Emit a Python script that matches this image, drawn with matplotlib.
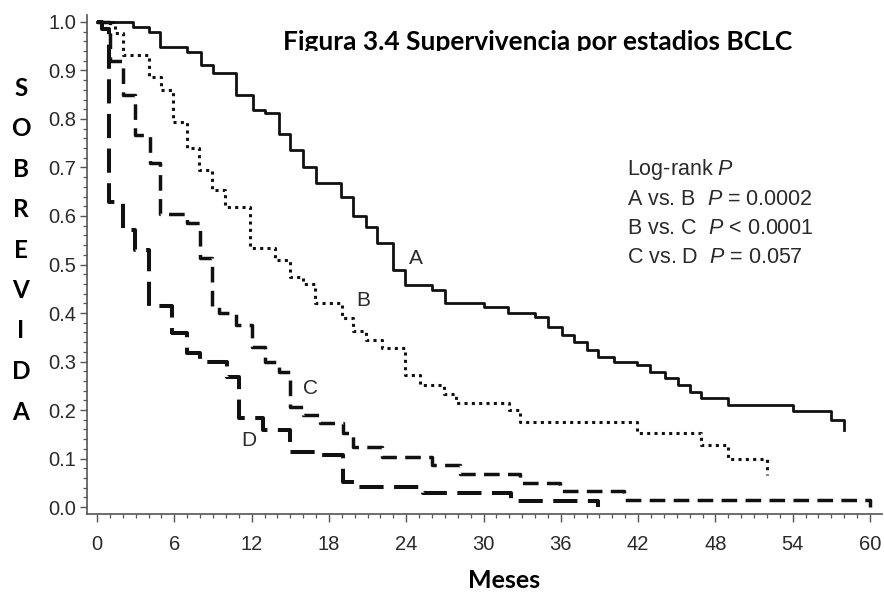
import numpy as np
import matplotlib
matplotlib.use("Agg")
import matplotlib.pyplot as plt
from matplotlib.ticker import MultipleLocator
from matplotlib.transforms import Bbox, TransformedBbox

plt.rcParams['font.family'] = ['Liberation Sans', 'DejaVu Sans']
plt.rcParams['mathtext.fontset'] = 'custom'
plt.rcParams['mathtext.rm'] = 'Liberation Sans'
plt.rcParams['mathtext.it'] = 'Liberation Sans:italic'

# --- datos (meses, supervivencia) ---
a_meses = [0, 2.8, 4.0, 4.9, 7.0, 8.1, 9.0, 10.8, 12.1, 13.0, 14.1, 15.0, 16.0, 17.0,
           18.9, 19.9, 20.9, 21.7, 23.0, 23.9, 26.0, 27.0, 30.0, 31.9, 34.0, 35.0,
           36.1, 37.0, 38.0, 38.9, 40.1, 41.9, 42.9, 44.1, 45.1, 46.0, 46.9, 49.0,
           54.0, 57.0, 58.0]
a_surv = [1.0, 0.99, 0.98, 0.949, 0.939, 0.911, 0.894, 0.849, 0.819, 0.812, 0.770,
          0.736, 0.702, 0.667, 0.640, 0.599, 0.578, 0.544, 0.489, 0.458, 0.447, 0.420,
          0.413, 0.399, 0.392, 0.372, 0.355, 0.341, 0.324, 0.310, 0.300, 0.293, 0.279,
          0.265, 0.252, 0.238, 0.224, 0.210, 0.197, 0.179, 0.159]

b_meses = [0, 1.4, 2.0, 4.0, 5.0, 5.9, 7.0, 7.9, 8.9, 9.9, 11.9, 13.8, 15.0, 16.0,
           16.9, 19.0, 19.9, 20.9, 22.1, 23.9, 25.1, 26.9, 27.9, 32.0, 32.8, 41.9,
           46.9, 49.0, 52.0]
b_surv = [1.0, 0.977, 0.932, 0.887, 0.86, 0.794, 0.74, 0.695, 0.654, 0.619, 0.533,
          0.509, 0.475, 0.46, 0.42, 0.389, 0.362, 0.344, 0.327, 0.272, 0.252, 0.234,
          0.214, 0.2, 0.176, 0.152, 0.128, 0.1, 0.066]

c_meses = [0, 1.0, 2.0, 2.95, 4.1, 4.9, 7.0, 8.0, 8.9, 9.5, 10.8, 12.0, 13.0, 14.1,
           15.0, 16.0, 17.3, 19.1, 19.9, 22.1, 26.0, 28.2, 32.8, 35.9, 40.9, 60.0]
c_surv = [1.0, 0.92, 0.85, 0.767, 0.71, 0.605, 0.585, 0.513, 0.413, 0.399, 0.375,
          0.33, 0.30, 0.279, 0.207, 0.19, 0.173, 0.152, 0.124, 0.104, 0.087, 0.069,
          0.05, 0.034, 0.0144, 0.0]

d_meses = [0, 0.4, 0.9, 2.0, 2.95, 4.0, 5.8, 7.0, 8.0, 10.1, 11.0, 12.9, 15.0, 17.0,
           19.1, 20.2, 25.3, 32.1, 38.9]
d_surv = [1.0, 0.985, 0.629, 0.571, 0.53, 0.415, 0.358, 0.317, 0.300, 0.269, 0.183,
          0.159, 0.114, 0.107, 0.052, 0.042, 0.028, 0.0124, 0.0]

etiquetas = ['A', 'B', 'C', 'D']
etiqueta_pos = [(24.76, 0.513), (20.65, 0.425), (16.57, 0.245), (11.8, 0.138)]

logrank = ['Log-rank $P$',
           'A vs. B  $P$ = 0.0002',
           'B vs. C  $P$ < 0.0001',
           'C vs. D  $P$ = 0.057']

x_ticks = [0, 6, 12, 18, 24, 30, 36, 42, 48, 54, 60]
y_ticks = [0.0, 0.1, 0.2, 0.3, 0.4, 0.5, 0.6, 0.7, 0.8, 0.9, 1.0]

gris = '#555555'
texto = '#2a2a2a'

fig = plt.figure(figsize=(8.84, 5.92), dpi=100)
ax = fig.add_axes([87 / 884, 78 / 592, 795 / 884, 499 / 592])

ax.step(a_meses, a_surv, where='post', color='#111111', lw=2.0)
ax.step(b_meses, b_surv, where='post', color='#111111', lw=2.2,
        linestyle=(0, (1.0, 1.4)), dash_capstyle='butt')
ax.step(c_meses, c_surv, where='post', color='#111111', lw=2.5,
        linestyle=(0, (4.5, 2.4)), dash_capstyle='butt')
ax.step(d_meses, d_surv, where='post', color='#111111', lw=2.9,
        linestyle=(0, (6.0, 2.6)), dash_capstyle='butt')

for lab, (xm, ys) in zip(etiquetas, etiqueta_pos):
    ax.text(xm, ys, lab, fontsize=15, color=texto, ha='center', va='center')

for i, linea in enumerate(logrank):
    ax.text(41.14, 0.695 - 0.06 * i, linea, fontsize=15.5, color=texto,
            ha='left', va='center')

ax.set_xlim(-0.78, 60.93)
ax.set_ylim(-0.0144, 1.0144)
ax.set_xticks(x_ticks)
ax.set_yticks(y_ticks)
ax.set_yticklabels([f'{v:.1f}' for v in y_ticks])
ax.xaxis.set_minor_locator(MultipleLocator(1))
ax.yaxis.set_minor_locator(MultipleLocator(0.02))
ax.tick_params(axis='both', which='major', labelsize=14.5, labelcolor=texto,
               color=gris, width=1.0)
ax.tick_params(axis='x', which='major', length=6, pad=9)
ax.tick_params(axis='y', which='major', length=5, pad=3)
ax.tick_params(axis='both', which='minor', length=3, color=gris, width=0.9)

for lado in ['top', 'right']:
    ax.spines[lado].set_visible(False)
for lado in ['left', 'bottom']:
    ax.spines[lado].set_color(gris)
    ax.spines[lado].set_linewidth(1.2)

# titulo recortado por abajo, como en la imagen original
titulo = fig.text(283 / 884, 1 - 50 / 592, 'Figura 3.4 Supervivencia por estadios BCLC',
                  fontsize=19, fontweight='bold', family='Lato', color='black',
                  ha='left', va='baseline')
recorte = TransformedBbox(Bbox([[0.25, 1 - 51 / 592], [0.98, 1.0]]), fig.transFigure)
titulo.set_clip_box(recorte)
titulo.set_clip_on(True)

fig.text(504 / 884, 1 - 581 / 592, 'Meses', fontsize=18, fontweight='bold',
         family='Lato', color='black', ha='center', va='center')

for i, letra in enumerate('SOBREVIDA'):
    fig.text(21 / 884, 1 - (88 + 40.5 * i) / 592, letra, fontsize=17.5,
             fontweight='bold', family='Lato', color='black',
             ha='center', va='center')

fig.savefig('out.png', dpi=100, facecolor='white')
